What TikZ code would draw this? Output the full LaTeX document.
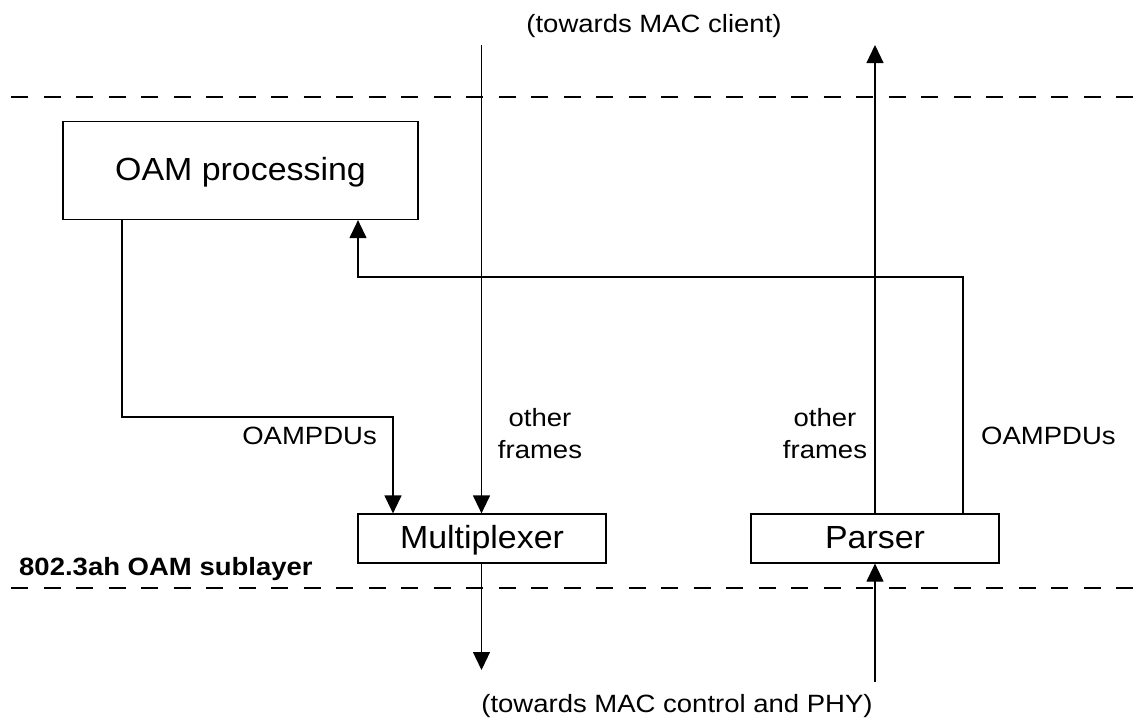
\documentclass[tikz,border=0pt]{standalone}
\usepackage{fontspec}
\setmainfont{Liberation Sans}[FakeStretch=1.1]
\newfontfamily\boxfont{Liberation Sans}[FakeStretch=1.06]
\usetikzlibrary{arrows.meta}
\tikzset{
  box/.style={draw, line width=1.2pt, inner sep=0pt, text height=23pt, text depth=4pt, font=\boxfont\fontsize{32}{38}\selectfont},
  lbl/.style={inner sep=0pt, font=\fontsize{25}{32}\selectfont},
  arr/.style={line width=1.2pt, -{Triangle[width=17pt,length=18pt]}},
  layer/.style={line width=1.2pt, dash pattern=on 17pt off 15.5pt},
}
\begin{document}
\begin{tikzpicture}[x=1pt,y=-1pt]
\useasboundingbox (0,0) rectangle (1144,721);
% layer boundaries
\draw[layer] (11,97) -- (1144,97);
\draw[layer] (11,588) -- (1144,588);
% boxes
\node[box, minimum width=355pt, minimum height=98pt] (oam) at (240.5,170.5) {OAM processing};
\node[box, minimum width=248pt, minimum height=49pt] (mux) at (482,538.5) {Multiplexer};
\node[box, minimum width=248pt, minimum height=49pt] (parser) at (875,538.5) {Parser};
% labels
\node[lbl, anchor=base] (tclient) at (654,32) {(towards MAC client)};
\node[lbl, anchor=base] (tphy) at (677,712) {(towards MAC control and PHY)};
\node[lbl, anchor=base west, font=\fontsize{25}{30}\selectfont\bfseries] (sub) at (19,575) {802.3ah OAM sublayer};
\node[lbl, anchor=base east] (pdul) at (377,444) {OAMPDUs};
\node[lbl, anchor=base west] (pdur) at (981,444) {OAMPDUs};
\node[lbl, align=center] (ofl) at (540,434) {other\\frames};
\node[lbl, align=center] (ofr) at (825,434) {other\\frames};
% helper coordinates
\coordinate (xa) at (122,0);
\coordinate (xb) at (393,0);
\coordinate (xc) at (358,0);
\coordinate (xd) at (963,0);
\coordinate (clientin) at (481.5,45);
\coordinate (clientout) at (875,45);
\coordinate (phyout) at (481.5,670);
\coordinate (phyin) at (875,682);
% connectors
\draw[arr] (clientin) -- (mux.north -| clientin);
\draw[arr] (parser.north) -- (clientout);
\draw[arr] (mux.south -| phyout) -- (phyout);
\draw[arr] (phyin) -- (parser.south);
\draw[arr] (oam.south -| xa) -- (122,417) -- (393,417) -- (mux.north -| xb);
\draw[arr] (parser.north -| xd) -- (963,277) -- (358,277) -- (oam.south -| xc);
\end{tikzpicture}
\end{document}
